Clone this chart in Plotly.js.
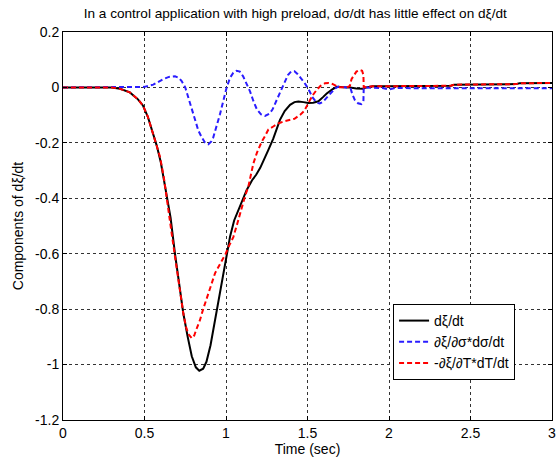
<!DOCTYPE html>
<html>
<head>
<meta charset="utf-8">
<script src="https://cdn.plot.ly/plotly-3.0.1.min.js"></script>
<style>html,body{margin:0;padding:0;background:#fff;}#chart{width:556px;height:464px;}</style>
</head>
<body>
<div id="chart"></div>
<script>
// dξ/dt (total)
const tTotal = [0,0.3,0.35,0.41,0.46,0.49,0.52,0.55,0.575,0.6,0.636,0.66,0.687,0.71,0.738,0.765,0.79,0.815,0.836,0.86,0.88,0.905,0.933,0.96,0.984,1.005,1.025,1.05,1.076,1.10,1.127,1.16,1.185,1.21,1.235,1.26,1.29,1.31,1.331,1.36,1.393,1.42,1.444,1.475,1.505,1.535,1.567,1.595,1.618,1.65,1.679,1.72,1.76,1.80,1.84,1.86,1.9,2.0,2.2,2.38,2.4,2.6,2.78,2.8,3.0];
const yTotal = [0,0,-0.005,-0.018,-0.043,-0.065,-0.105,-0.16,-0.21,-0.27,-0.39,-0.47,-0.60,-0.70,-0.815,-0.90,-0.97,-1.01,-1.022,-1.015,-0.99,-0.93,-0.84,-0.75,-0.67,-0.60,-0.538,-0.48,-0.442,-0.41,-0.37,-0.335,-0.315,-0.29,-0.26,-0.225,-0.185,-0.15,-0.117,-0.085,-0.063,-0.053,-0.051,-0.053,-0.056,-0.055,-0.05,-0.035,-0.022,-0.008,0.002,0.001,0,-0.004,-0.005,0,0.004,0.004,0.005,0.006,0.01,0.011,0.012,0.015,0.016];

// ∂ξ/∂σ * dσ/dt
const tSigma = [0,0.5,0.554,0.585,0.615,0.65,0.687,0.71,0.728,0.75,0.769,0.79,0.81,0.83,0.851,0.87,0.892,0.91,0.922,0.94,0.963,0.985,1.004,1.025,1.045,1.065,1.085,1.105,1.125,1.148,1.168,1.19,1.215,1.24,1.265,1.285,1.30,1.325,1.352,1.38,1.40,1.42,1.44,1.46,1.48,1.505,1.53,1.556,1.575,1.595,1.62,1.645,1.67,1.69,1.74,1.765,1.775,1.79,1.81,1.83,1.843,1.845,1.9,1.96,2.0,2.04,2.2,3.0];
const ySigma = [0,0.002,0.01,0.02,0.03,0.038,0.04,0.035,0.023,0.0,-0.037,-0.08,-0.12,-0.155,-0.18,-0.198,-0.205,-0.195,-0.18,-0.145,-0.097,-0.045,0,0.035,0.053,0.06,0.057,0.04,0.015,-0.015,-0.049,-0.08,-0.097,-0.103,-0.095,-0.08,-0.06,-0.025,0.012,0.045,0.058,0.058,0.048,0.035,0.018,-0.005,-0.035,-0.055,-0.058,-0.052,-0.035,-0.018,-0.003,0.003,0,-0.005,-0.025,-0.045,-0.057,-0.06,-0.05,0,-0.002,-0.002,-0.007,-0.002,-0.003,-0.003];

// -∂ξ/∂T * dT/dt
const tTemp = [0,0.3,0.35,0.41,0.46,0.49,0.52,0.55,0.575,0.595,0.62,0.646,0.665,0.687,0.71,0.738,0.755,0.769,0.79,0.805,0.82,0.84,0.86,0.88,0.905,0.933,0.965,0.998,1.02,1.045,1.07,1.096,1.118,1.137,1.152,1.168,1.19,1.219,1.24,1.26,1.29,1.32,1.352,1.393,1.42,1.454,1.48,1.505,1.53,1.556,1.58,1.607,1.63,1.648,1.67,1.69,1.74,1.76,1.77,1.785,1.80,1.82,1.835,1.843,1.845,1.9,2.0,2.2,2.38,2.4,2.6,2.78,2.8,3.0];
const yTemp = [0,0,-0.005,-0.018,-0.043,-0.065,-0.105,-0.16,-0.21,-0.25,-0.33,-0.43,-0.52,-0.61,-0.71,-0.815,-0.865,-0.89,-0.905,-0.895,-0.87,-0.84,-0.80,-0.767,-0.72,-0.67,-0.635,-0.60,-0.57,-0.54,-0.49,-0.43,-0.39,-0.358,-0.32,-0.274,-0.235,-0.196,-0.175,-0.152,-0.141,-0.13,-0.123,-0.117,-0.113,-0.099,-0.085,-0.057,-0.03,-0.009,0.006,0.015,0.016,0.014,0.006,0.001,0,0.005,0.03,0.045,0.057,0.063,0.06,0.045,0.0,0.004,0.004,0.005,0.006,0.01,0.011,0.012,0.015,0.016];

const seriesNames = ['dξ/dt', '∂ξ/∂σ*dσ/dt', '-∂ξ/∂T*dT/dt'];
const xTickVals = [0,0.5,1,1.5,2,2.5,3];
const xTickText = ['0','0.5','1','1.5','2','2.5','3'];
const yTickVals = [0.2,0,-0.2,-0.4,-0.6,-0.8,-1,-1.2];
const yTickText = ['0.2','0','-0.2','-0.4','-0.6','-0.8','-1','-1.2'];

const font = 'Liberation Sans, Arial, sans-serif';

const traces = [
  {x: tTotal, y: yTotal, name: seriesNames[0], mode: 'lines', line: {color: '#000000', width: 2}},
  {x: tSigma, y: ySigma, name: seriesNames[1], mode: 'lines', line: {color: '#2a1cff', width: 2, dash: '5px,3px'}},
  {x: tTemp, y: yTemp, name: seriesNames[2], mode: 'lines', line: {color: '#ff0000', width: 2, dash: '5px,3px'}}
];

const axisCommon = {
  showline: true, linecolor: '#000', linewidth: 1, mirror: 'ticks',
  ticks: 'inside', ticklen: 4, tickcolor: '#000',
  showgrid: true, gridcolor: '#333', gridwidth: 1, griddash: '3px,3px',
  zeroline: false, ticklabeloverflow: 'allow',
  tickfont: {family: font, size: 14, color: '#000'}
};

const layout = {
  width: 556, height: 464,
  margin: {l: 63, r: 4, t: 32, b: 44},
  paper_bgcolor: '#fff', plot_bgcolor: '#fff',
  font: {family: font, size: 14, color: '#000'},
  title: {text: 'In a control application with high preload, dσ/dt has little effect on dξ/dt',
          font: {family: font, size: 13.6, color: '#000'},
          x: 0.531, xanchor: 'center', xref: 'container', y: 0.972, yanchor: 'middle', yref: 'container'},
  xaxis: Object.assign({}, axisCommon, {
    range: [0, 3], tickvals: xTickVals, ticktext: xTickText,
    title: {text: 'Time (sec)', font: {family: font, size: 14, color: '#000'}, standoff: 2}
  }),
  yaxis: Object.assign({}, axisCommon, {
    range: [-1.2, 0.2], tickvals: yTickVals, ticktext: yTickText,
    title: {text: 'Components of dξ/dt', font: {family: font, size: 14, color: '#000'}, standoff: 8}
  }),
  showlegend: true,
  legend: {x: 0.675, y: 0.299, xanchor: 'left', yanchor: 'top',
           bgcolor: '#fff', bordercolor: '#000', borderwidth: 1,
           font: {family: font, size: 14, color: '#000'}, tracegroupgap: 0}
};

Plotly.newPlot('chart', traces, layout, {staticPlot: true});
</script>
</body>
</html>
